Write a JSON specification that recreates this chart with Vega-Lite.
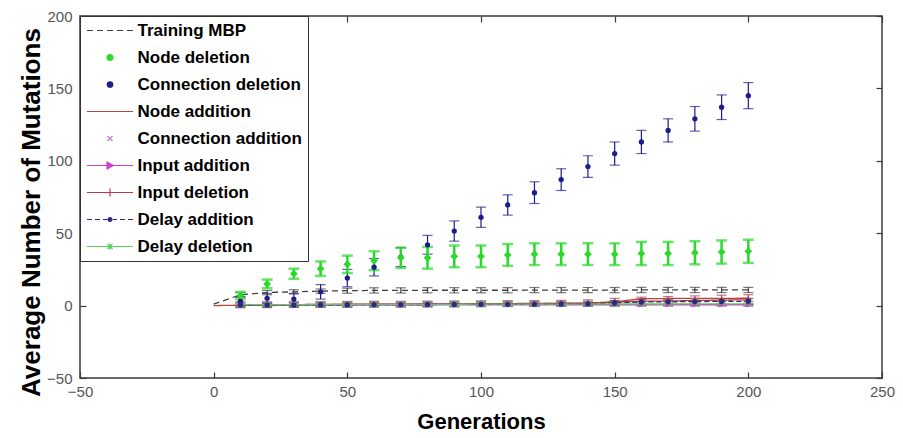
{
  "$schema": "https://vega.github.io/schema/vega-lite/v6.json",
  "width": 802,
  "height": 362,
  "autosize": {"type": "none"},
  "padding": {"left": 80, "top": 16, "right": 21, "bottom": 60},
  "background": "white",
  "data": {"values": [
    {"s":"Training MBP","g":0,"v":1},
    {"s":"Training MBP","g":10,"v":7.5,"lo":6,"hi":9},
    {"s":"Training MBP","g":20,"v":9,"lo":7.5,"hi":10.5},
    {"s":"Training MBP","g":30,"v":9.5,"lo":8,"hi":11},
    {"s":"Training MBP","g":40,"v":10,"lo":8.5,"hi":11.5},
    {"s":"Training MBP","g":50,"v":10.3,"lo":8.5,"hi":12},
    {"s":"Training MBP","g":60,"v":10.5,"lo":8.7,"hi":12.3},
    {"s":"Training MBP","g":70,"v":10.5,"lo":8.7,"hi":12.3},
    {"s":"Training MBP","g":80,"v":10.6,"lo":8.8,"hi":12.4},
    {"s":"Training MBP","g":90,"v":10.6,"lo":8.8,"hi":12.4},
    {"s":"Training MBP","g":100,"v":10.6,"lo":8.8,"hi":12.4},
    {"s":"Training MBP","g":110,"v":10.6,"lo":8.8,"hi":12.4},
    {"s":"Training MBP","g":120,"v":10.7,"lo":8.9,"hi":12.5},
    {"s":"Training MBP","g":130,"v":10.7,"lo":8.9,"hi":12.5},
    {"s":"Training MBP","g":140,"v":10.7,"lo":8.9,"hi":12.5},
    {"s":"Training MBP","g":150,"v":10.7,"lo":8.9,"hi":12.5},
    {"s":"Training MBP","g":160,"v":10.8,"lo":9,"hi":12.6},
    {"s":"Training MBP","g":170,"v":10.8,"lo":9,"hi":12.6},
    {"s":"Training MBP","g":180,"v":10.8,"lo":9,"hi":12.6},
    {"s":"Training MBP","g":190,"v":10.8,"lo":9,"hi":12.6},
    {"s":"Training MBP","g":200,"v":10.8,"lo":9,"hi":12.6},

    {"s":"Node deletion","g":10,"v":7,"lo":4.5,"hi":9.5},
    {"s":"Node deletion","g":20,"v":15,"lo":12,"hi":18},
    {"s":"Node deletion","g":30,"v":22,"lo":18.5,"hi":25.5},
    {"s":"Node deletion","g":40,"v":25.5,"lo":20.5,"hi":30.5},
    {"s":"Node deletion","g":50,"v":28.5,"lo":22.5,"hi":34.5},
    {"s":"Node deletion","g":60,"v":31,"lo":24.5,"hi":37.5},
    {"s":"Node deletion","g":70,"v":33,"lo":26,"hi":40},
    {"s":"Node deletion","g":80,"v":33,"lo":25.5,"hi":40.5},
    {"s":"Node deletion","g":90,"v":34,"lo":26.5,"hi":41.5},
    {"s":"Node deletion","g":100,"v":34,"lo":26.5,"hi":41.5},
    {"s":"Node deletion","g":110,"v":35,"lo":27.5,"hi":42.5},
    {"s":"Node deletion","g":120,"v":35.5,"lo":28,"hi":43},
    {"s":"Node deletion","g":130,"v":35.5,"lo":28,"hi":43},
    {"s":"Node deletion","g":140,"v":35.5,"lo":28,"hi":43},
    {"s":"Node deletion","g":150,"v":35.5,"lo":28,"hi":43},
    {"s":"Node deletion","g":160,"v":36,"lo":28,"hi":44},
    {"s":"Node deletion","g":170,"v":36,"lo":28,"hi":44},
    {"s":"Node deletion","g":180,"v":36.5,"lo":28.5,"hi":44.5},
    {"s":"Node deletion","g":190,"v":37,"lo":29,"hi":45},
    {"s":"Node deletion","g":200,"v":37.5,"lo":29.5,"hi":45.5},

    {"s":"Connection deletion","g":10,"v":3,"lo":0,"hi":6},
    {"s":"Connection deletion","g":20,"v":5,"lo":1.5,"hi":8.5},
    {"s":"Connection deletion","g":30,"v":4.5,"lo":0.5,"hi":8.5},
    {"s":"Connection deletion","g":40,"v":9.5,"lo":4.5,"hi":14.5},
    {"s":"Connection deletion","g":50,"v":19,"lo":13,"hi":25},
    {"s":"Connection deletion","g":60,"v":26.5,"lo":20.5,"hi":32.5},
    {"s":"Connection deletion","g":70,"v":33.5,"lo":27,"hi":40},
    {"s":"Connection deletion","g":80,"v":42,"lo":35.5,"hi":48.5},
    {"s":"Connection deletion","g":90,"v":51.5,"lo":44.5,"hi":58.5},
    {"s":"Connection deletion","g":100,"v":61,"lo":54,"hi":68},
    {"s":"Connection deletion","g":110,"v":69.5,"lo":62.5,"hi":76.5},
    {"s":"Connection deletion","g":120,"v":78,"lo":70.5,"hi":85.5},
    {"s":"Connection deletion","g":130,"v":87,"lo":79.5,"hi":94.5},
    {"s":"Connection deletion","g":140,"v":96,"lo":88.5,"hi":103.5},
    {"s":"Connection deletion","g":150,"v":105,"lo":97,"hi":113},
    {"s":"Connection deletion","g":160,"v":113,"lo":105,"hi":121},
    {"s":"Connection deletion","g":170,"v":121,"lo":113,"hi":129},
    {"s":"Connection deletion","g":180,"v":129,"lo":120.5,"hi":137.5},
    {"s":"Connection deletion","g":190,"v":137,"lo":128.5,"hi":145.5},
    {"s":"Connection deletion","g":200,"v":145,"lo":136,"hi":154},

    {"s":"Node addition","g":0,"v":0},
    {"s":"Node addition","g":10,"v":0.3},
    {"s":"Node addition","g":20,"v":0.5},
    {"s":"Node addition","g":30,"v":0.6},
    {"s":"Node addition","g":40,"v":0.7},
    {"s":"Node addition","g":50,"v":0.8},
    {"s":"Node addition","g":60,"v":0.9},
    {"s":"Node addition","g":70,"v":1},
    {"s":"Node addition","g":80,"v":1},
    {"s":"Node addition","g":90,"v":1.1},
    {"s":"Node addition","g":100,"v":1.2},
    {"s":"Node addition","g":110,"v":1.3},
    {"s":"Node addition","g":120,"v":1.4},
    {"s":"Node addition","g":130,"v":1.5},
    {"s":"Node addition","g":140,"v":1.6},
    {"s":"Node addition","g":150,"v":2.5},
    {"s":"Node addition","g":160,"v":4.8},
    {"s":"Node addition","g":170,"v":4.9},
    {"s":"Node addition","g":180,"v":5},
    {"s":"Node addition","g":190,"v":5},
    {"s":"Node addition","g":200,"v":5.1},

    {"s":"Connection addition","g":10,"v":0.8,"lo":-0.7,"hi":2.3},
    {"s":"Connection addition","g":20,"v":1,"lo":-0.5,"hi":2.5},
    {"s":"Connection addition","g":30,"v":1,"lo":-0.5,"hi":2.5},
    {"s":"Connection addition","g":40,"v":1.1,"lo":-0.4,"hi":2.6},
    {"s":"Connection addition","g":50,"v":1.1,"lo":-0.4,"hi":2.6},
    {"s":"Connection addition","g":60,"v":1.2,"lo":-0.3,"hi":2.7},
    {"s":"Connection addition","g":70,"v":1.2,"lo":-0.3,"hi":2.7},
    {"s":"Connection addition","g":80,"v":1.3,"lo":-0.2,"hi":2.8},
    {"s":"Connection addition","g":90,"v":1.3,"lo":-0.2,"hi":2.8},
    {"s":"Connection addition","g":100,"v":1.3,"lo":-0.2,"hi":2.8},
    {"s":"Connection addition","g":110,"v":1.4,"lo":-0.1,"hi":2.9},
    {"s":"Connection addition","g":120,"v":1.4,"lo":-0.1,"hi":2.9},
    {"s":"Connection addition","g":130,"v":1.4,"lo":-0.1,"hi":2.9},
    {"s":"Connection addition","g":140,"v":1.5,"lo":0,"hi":3},
    {"s":"Connection addition","g":150,"v":1.5,"lo":0,"hi":3},
    {"s":"Connection addition","g":160,"v":1.5,"lo":0,"hi":3},
    {"s":"Connection addition","g":170,"v":1.6,"lo":0.1,"hi":3.1},
    {"s":"Connection addition","g":180,"v":1.6,"lo":0.1,"hi":3.1},
    {"s":"Connection addition","g":190,"v":1.6,"lo":0.1,"hi":3.1},
    {"s":"Connection addition","g":200,"v":1.7,"lo":0.2,"hi":3.2},

    {"s":"Input addition","g":10,"v":0.2,"lo":-0.8,"hi":1.2},
    {"s":"Input addition","g":20,"v":0.3,"lo":-0.7,"hi":1.3},
    {"s":"Input addition","g":30,"v":0.3,"lo":-0.7,"hi":1.3},
    {"s":"Input addition","g":40,"v":0.3,"lo":-0.7,"hi":1.3},
    {"s":"Input addition","g":50,"v":0.4,"lo":-0.6,"hi":1.4},
    {"s":"Input addition","g":60,"v":0.4,"lo":-0.6,"hi":1.4},
    {"s":"Input addition","g":70,"v":0.4,"lo":-0.6,"hi":1.4},
    {"s":"Input addition","g":80,"v":0.4,"lo":-0.6,"hi":1.4},
    {"s":"Input addition","g":90,"v":0.5,"lo":-0.5,"hi":1.5},
    {"s":"Input addition","g":100,"v":0.5,"lo":-0.5,"hi":1.5},
    {"s":"Input addition","g":110,"v":0.5,"lo":-0.5,"hi":1.5},
    {"s":"Input addition","g":120,"v":0.5,"lo":-0.5,"hi":1.5},
    {"s":"Input addition","g":130,"v":0.5,"lo":-0.5,"hi":1.5},
    {"s":"Input addition","g":140,"v":0.6,"lo":-0.4,"hi":1.6},
    {"s":"Input addition","g":150,"v":0.6,"lo":-0.4,"hi":1.6},
    {"s":"Input addition","g":160,"v":0.6,"lo":-0.4,"hi":1.6},
    {"s":"Input addition","g":170,"v":0.6,"lo":-0.4,"hi":1.6},
    {"s":"Input addition","g":180,"v":0.6,"lo":-0.4,"hi":1.6},
    {"s":"Input addition","g":190,"v":0.6,"lo":-0.4,"hi":1.6},
    {"s":"Input addition","g":200,"v":0.6,"lo":-0.4,"hi":1.6},

    {"s":"Input deletion","g":10,"v":0.5,"lo":-1.5,"hi":2.5},
    {"s":"Input deletion","g":20,"v":0.6,"lo":-1.4,"hi":2.6},
    {"s":"Input deletion","g":30,"v":0.7,"lo":-1.3,"hi":2.7},
    {"s":"Input deletion","g":40,"v":0.8,"lo":-1.2,"hi":2.8},
    {"s":"Input deletion","g":50,"v":0.9,"lo":-1.1,"hi":2.9},
    {"s":"Input deletion","g":60,"v":1,"lo":-1,"hi":3},
    {"s":"Input deletion","g":70,"v":1,"lo":-1,"hi":3},
    {"s":"Input deletion","g":80,"v":1.1,"lo":-0.9,"hi":3.1},
    {"s":"Input deletion","g":90,"v":1.2,"lo":-0.8,"hi":3.2},
    {"s":"Input deletion","g":100,"v":1.3,"lo":-0.7,"hi":3.3},
    {"s":"Input deletion","g":110,"v":1.4,"lo":-0.6,"hi":3.4},
    {"s":"Input deletion","g":120,"v":1.5,"lo":-0.5,"hi":3.5},
    {"s":"Input deletion","g":130,"v":1.6,"lo":-0.4,"hi":3.6},
    {"s":"Input deletion","g":140,"v":1.8,"lo":-0.4,"hi":4},
    {"s":"Input deletion","g":150,"v":2.5,"lo":0,"hi":5},
    {"s":"Input deletion","g":160,"v":3,"lo":0.2,"hi":5.8},
    {"s":"Input deletion","g":170,"v":3.2,"lo":0.2,"hi":6.2},
    {"s":"Input deletion","g":180,"v":3.5,"lo":0.3,"hi":6.7},
    {"s":"Input deletion","g":190,"v":3.8,"lo":0.4,"hi":7.2},
    {"s":"Input deletion","g":200,"v":4,"lo":0.5,"hi":7.5},

    {"s":"Delay addition","g":10,"v":0.4,"lo":-1.1,"hi":1.9},
    {"s":"Delay addition","g":20,"v":0.5,"lo":-1,"hi":2},
    {"s":"Delay addition","g":30,"v":0.5,"lo":-1,"hi":2},
    {"s":"Delay addition","g":40,"v":0.6,"lo":-0.9,"hi":2.1},
    {"s":"Delay addition","g":50,"v":0.6,"lo":-0.9,"hi":2.1},
    {"s":"Delay addition","g":60,"v":0.7,"lo":-0.8,"hi":2.2},
    {"s":"Delay addition","g":70,"v":0.7,"lo":-0.8,"hi":2.2},
    {"s":"Delay addition","g":80,"v":0.8,"lo":-0.7,"hi":2.3},
    {"s":"Delay addition","g":90,"v":0.8,"lo":-0.7,"hi":2.3},
    {"s":"Delay addition","g":100,"v":0.9,"lo":-0.6,"hi":2.4},
    {"s":"Delay addition","g":110,"v":0.9,"lo":-0.6,"hi":2.4},
    {"s":"Delay addition","g":120,"v":1,"lo":-0.5,"hi":2.5},
    {"s":"Delay addition","g":130,"v":1.1,"lo":-0.4,"hi":2.6},
    {"s":"Delay addition","g":140,"v":1.2,"lo":-0.3,"hi":2.7},
    {"s":"Delay addition","g":150,"v":1.8,"lo":0.1,"hi":3.5},
    {"s":"Delay addition","g":160,"v":2.5,"lo":0.7,"hi":4.3},
    {"s":"Delay addition","g":170,"v":2.6,"lo":0.8,"hi":4.4},
    {"s":"Delay addition","g":180,"v":2.8,"lo":0.9,"hi":4.7},
    {"s":"Delay addition","g":190,"v":2.9,"lo":1,"hi":4.8},
    {"s":"Delay addition","g":200,"v":3,"lo":1,"hi":5},

    {"s":"Delay deletion","g":10,"v":0.6,"lo":-0.9,"hi":2.1},
    {"s":"Delay deletion","g":20,"v":0.7,"lo":-0.8,"hi":2.2},
    {"s":"Delay deletion","g":30,"v":0.7,"lo":-0.8,"hi":2.2},
    {"s":"Delay deletion","g":40,"v":0.8,"lo":-0.7,"hi":2.3},
    {"s":"Delay deletion","g":50,"v":0.8,"lo":-0.7,"hi":2.3},
    {"s":"Delay deletion","g":60,"v":0.8,"lo":-0.7,"hi":2.3},
    {"s":"Delay deletion","g":70,"v":0.9,"lo":-0.6,"hi":2.4},
    {"s":"Delay deletion","g":80,"v":0.9,"lo":-0.6,"hi":2.4},
    {"s":"Delay deletion","g":90,"v":0.9,"lo":-0.6,"hi":2.4},
    {"s":"Delay deletion","g":100,"v":1,"lo":-0.5,"hi":2.5},
    {"s":"Delay deletion","g":110,"v":1,"lo":-0.5,"hi":2.5},
    {"s":"Delay deletion","g":120,"v":1,"lo":-0.5,"hi":2.5},
    {"s":"Delay deletion","g":130,"v":1,"lo":-0.5,"hi":2.5},
    {"s":"Delay deletion","g":140,"v":1.1,"lo":-0.4,"hi":2.6},
    {"s":"Delay deletion","g":150,"v":1.1,"lo":-0.4,"hi":2.6},
    {"s":"Delay deletion","g":160,"v":1.1,"lo":-0.4,"hi":2.6},
    {"s":"Delay deletion","g":170,"v":1.1,"lo":-0.4,"hi":2.6},
    {"s":"Delay deletion","g":180,"v":1.2,"lo":-0.3,"hi":2.7},
    {"s":"Delay deletion","g":190,"v":1.2,"lo":-0.3,"hi":2.7},
    {"s":"Delay deletion","g":200,"v":1.2,"lo":-0.3,"hi":2.7}
  ]},
  "encoding": {
    "color": {
      "field": "s",
      "type": "nominal",
      "scale": {
        "domain": ["Training MBP","Node deletion","Connection deletion","Node addition","Connection addition","Input addition","Input deletion","Delay addition","Delay deletion"],
        "range": ["#404040","#2bd92b","#1c1c8c","#b5473f","#c77dc7","#cc44cc","#b83a4a","#2a2a80","#5ccc5c"]
      },
      "legend": {
        "title": null,
        "orient": "top-left",
        "offset": 0,
        "encode": {
          "symbols": {
            "update": {
              "shape": {"signal": "datum.value === 'Training MBP' || datum.value === 'Node addition' ? 'M-4.6,0H4.6' : datum.value === 'Node deletion' ? 'M-0.6,0A0.6,0.6 0 1,0 0.6,0A0.6,0.6 0 1,0 -0.6,0' : datum.value === 'Connection deletion' ? 'M-0.55,0A0.55,0.55 0 1,0 0.55,0A0.55,0.55 0 1,0 -0.55,0' : datum.value === 'Connection addition' ? 'M-0.5,-0.5L0.5,0.5M-0.5,0.5L0.5,-0.5' : datum.value === 'Input addition' ? 'M-4.6,0H4.6M-0.6,-0.7L0.7,0L-0.6,0.7Z' : datum.value === 'Input deletion' ? 'M-4.6,0H4.6M0,-0.8V0.8' : datum.value === 'Delay addition' ? 'M-4.6,0H-3.6M-3,0H-2M-1.4,0H-0.6M0.6,0H1.4M2,0H3M3.6,0H4.6M-0.4,0A0.4,0.4 0 1,0 0.4,0A0.4,0.4 0 1,0 -0.4,0' : 'M-4.6,0H4.6M-0.5,-0.5L0.5,0.5M-0.5,0.5L0.5,-0.5M0,-0.6V0.6'"},
              "fill": {"signal": "datum.value === 'Connection deletion' ? '#1c1c8c' : datum.value === 'Input addition' ? '#cc44cc' : datum.value === 'Delay addition' ? '#2a2a80' : 'transparent'"},
              "stroke": {"signal": "datum.value === 'Training MBP' ? '#404040' : datum.value === 'Node deletion' ? '#2bd92b' : datum.value === 'Connection deletion' ? '#1c1c8c' : datum.value === 'Node addition' ? '#b5473f' : datum.value === 'Connection addition' ? '#c77dc7' : datum.value === 'Input addition' ? '#cc44cc' : datum.value === 'Input deletion' ? '#b83a4a' : datum.value === 'Delay addition' ? '#2a2a80' : '#5ccc5c'"},
              "strokeDash": {"signal": "datum.value === 'Training MBP' ? [6, 4] : null"},
              "strokeWidth": {"value": 1.2},
              "opacity": {"value": 1}
            }
          }
        }
      }
    }
  },
  "layer": [
    {
      "transform": [{"filter": "datum.s !== 'Node deletion' && isValid(datum.lo)"}],
      "mark": {"type": "errorbar", "ticks": {"size": 10, "thickness": 1.2}, "thickness": 1.2},
      "encoding": {
        "x": {"field": "g", "type": "quantitative", "scale": {"domain": [-50, 250], "nice": false, "zero": false},
          "axis": {"orient": "bottom", "values": [-50, 0, 50, 100, 150, 200, 250], "title": "Generations", "titleX": 401, "titleY": 43, "titleBaseline": "middle", "titleAlign": "center", "titleFontSize": 22, "labelPadding": 12, "labelFlush": false, "labelOverlap": false}},
        "y": {"field": "lo", "type": "quantitative", "scale": {"domain": [-50, 200], "nice": false, "zero": false},
          "axis": {"orient": "left", "values": [-50, 0, 50, 100, 150, 200], "title": "Average Number of Mutations", "titleX": -49, "titleY": 196, "titleAngle": 270, "titleBaseline": "middle", "titleAlign": "center", "titleFontSize": 26, "labelPadding": 14, "labelFlush": false, "labelOverlap": false}},
        "y2": {"field": "hi"}
      }
    },
    {
      "transform": [{"filter": "datum.s === 'Node deletion'"}],
      "mark": {"type": "errorbar", "ticks": {"size": 11, "thickness": 2.5}, "thickness": 2.5},
      "encoding": {
        "x": {"field": "g", "type": "quantitative", "scale": {"domain": [-50, 250], "nice": false, "zero": false},
          "axis": {"orient": "top", "values": [-50, 0, 50, 100, 150, 200, 250], "labels": false, "title": null}},
        "y": {"field": "lo", "type": "quantitative", "scale": {"domain": [-50, 200], "nice": false, "zero": false},
          "axis": {"orient": "right", "values": [-50, 0, 50, 100, 150, 200], "labels": false, "title": null}},
        "y2": {"field": "hi"}
      }
    },
    {
      "transform": [{"filter": {"field": "s", "oneOf": ["Training MBP","Node addition","Input addition","Input deletion","Delay addition","Delay deletion"]}}],
      "mark": {"type": "line", "strokeWidth": 1.3},
      "encoding": {
        "x": {"field": "g", "type": "quantitative", "scale": {"domain": [-50, 250], "nice": false, "zero": false}, "axis": null},
        "y": {"field": "v", "type": "quantitative", "scale": {"domain": [-50, 200], "nice": false, "zero": false}, "axis": null},
        "strokeDash": {"field": "s", "type": "nominal", "legend": null,
          "scale": {"domain": ["Training MBP","Node addition","Input addition","Input deletion","Delay addition","Delay deletion"], "range": [[6, 4], [1, 0], [1, 0], [1, 0], [5, 3], [1, 0]]}}
      }
    },
    {
      "transform": [{"filter": {"field": "s", "oneOf": ["Connection addition","Input deletion","Delay deletion"]}}],
      "mark": {"type": "point", "filled": false, "strokeWidth": 1.6, "size": 36, "opacity": 1},
      "encoding": {
        "x": {"field": "g", "type": "quantitative", "scale": {"domain": [-50, 250], "nice": false, "zero": false}, "axis": null},
        "y": {"field": "v", "type": "quantitative", "scale": {"domain": [-50, 200], "nice": false, "zero": false}, "axis": null},
        "shape": {"field": "s", "type": "nominal", "legend": null,
          "scale": {"domain": ["Connection addition","Input deletion","Delay deletion","Connection deletion","Input addition","Delay addition"], "range": ["M-0.7,-0.7L0.7,0.7M-0.7,0.7L0.7,-0.7", "M-1,0H1M0,-1V1", "M-0.7,-0.7L0.7,0.7M-0.7,0.7L0.7,-0.7M0,-1V1M-1,0H1", "circle", "triangle-right", "circle"]}}
      }
    },
    {
      "transform": [{"filter": {"field": "s", "oneOf": ["Connection deletion","Input addition","Delay addition"]}}],
      "mark": {"type": "point", "filled": true, "size": 28, "opacity": 1},
      "encoding": {
        "x": {"field": "g", "type": "quantitative", "scale": {"domain": [-50, 250], "nice": false, "zero": false}, "axis": null},
        "y": {"field": "v", "type": "quantitative", "scale": {"domain": [-50, 200], "nice": false, "zero": false}, "axis": null},
        "shape": {"field": "s", "type": "nominal", "legend": null,
          "scale": {"domain": ["Connection addition","Input deletion","Delay deletion","Connection deletion","Input addition","Delay addition"], "range": ["M-0.7,-0.7L0.7,0.7M-0.7,0.7L0.7,-0.7", "M-1,0H1M0,-1V1", "M-0.7,-0.7L0.7,0.7M-0.7,0.7L0.7,-0.7M0,-1V1M-1,0H1", "circle", "triangle-right", "circle"]}}
      }
    },
    {
      "transform": [{"filter": "datum.s === 'Node deletion'"}],
      "mark": {"type": "point", "filled": true, "shape": "diamond", "size": 60, "opacity": 1},
      "encoding": {
        "x": {"field": "g", "type": "quantitative", "scale": {"domain": [-50, 250], "nice": false, "zero": false}, "axis": null},
        "y": {"field": "v", "type": "quantitative", "scale": {"domain": [-50, 200], "nice": false, "zero": false}, "axis": null}
      }
    }
  ],
  "resolve": {"axis": {"x": "independent", "y": "independent"}},
  "config": {
    "view": {"stroke": "#3a3a3a", "strokeWidth": 1.5},
    "axis": {
      "domain": false,
      "grid": false,
      "ticks": true,
      "tickColor": "#3a3a3a",
      "tickSize": -6,
      "tickWidth": 1.2,
      "labelFont": "Liberation Sans",
      "labelFontSize": 15,
      "labelColor": "#555555",
      "titleFont": "Liberation Sans",
      "titleFontWeight": "bold",
      "titleColor": "#000000"
    },
    "legend": {
      "padding": 6,
      "strokeColor": "#333333",
      "fillColor": "white",
      "labelFont": "Liberation Sans",
      "labelFontWeight": "bold",
      "labelFontSize": 17,
      "labelColor": "#000000",
      "labelLimit": 400,
      "symbolSize": 100,
      "symbolOffset": 15.5,
      "labelOffset": 19,
      "rowPadding": 9,
      "symbolStrokeWidth": 1.2
    }
  }
}
